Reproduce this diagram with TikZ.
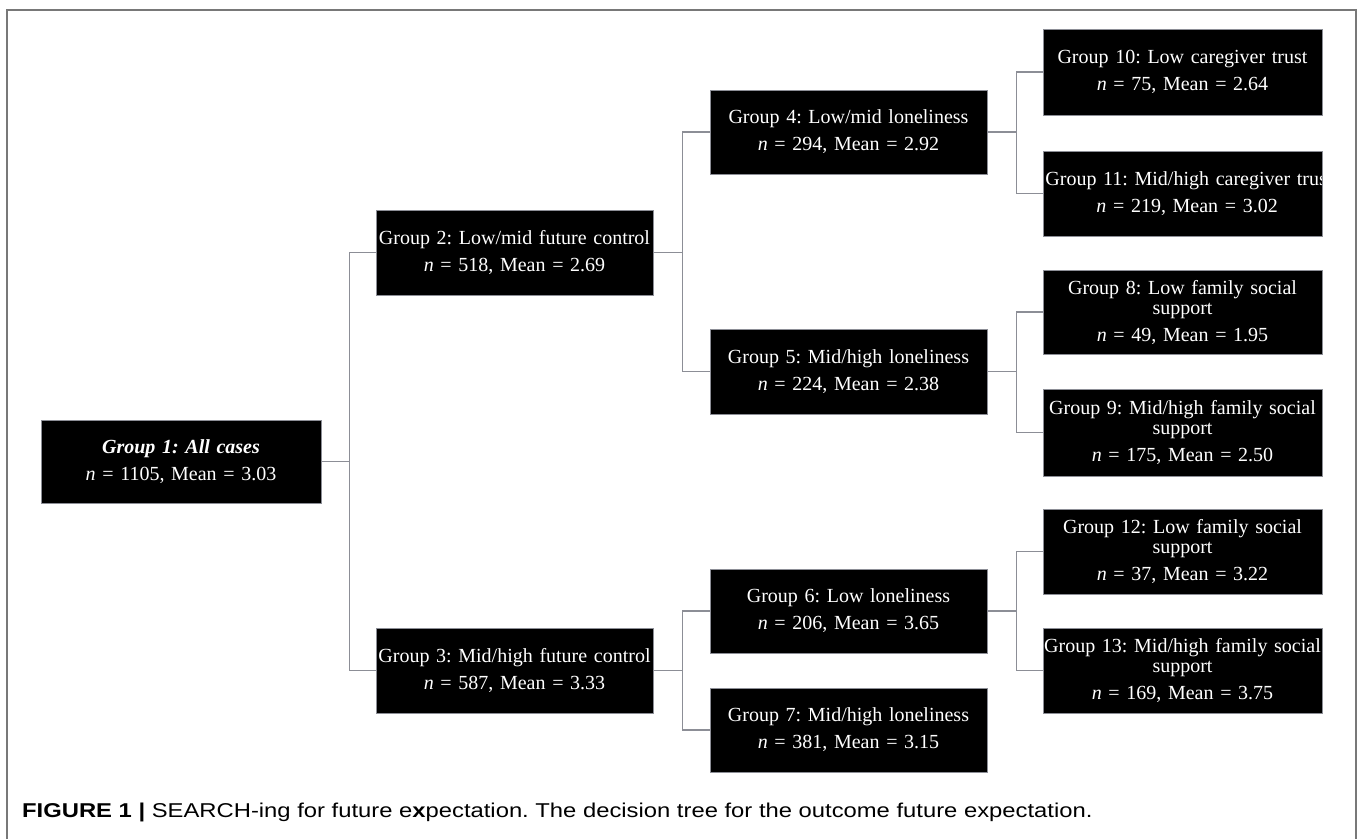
\documentclass[tikz,border=0pt]{standalone}
\usepackage{fontspec}
\setmainfont{Liberation Serif}
\newfontfamily\capfont[FakeStretch=1.19]{Liberation Sans}
\definecolor{linegray}{RGB}{140,142,150}
\definecolor{framegray}{RGB}{120,120,120}
\tikzset{
  grpbox/.style={fill=black, draw=linegray, line width=0.8pt, text=white, align=center,
    inner sep=0pt, text width=279pt, minimum height=85pt,
    font=\fontsize{20}{20}\selectfont},
  conn/.style={draw=linegray, line width=1.3pt},
}
\newcommand{\nm}[2]{\textit{n} = #1, Mean = #2}
\frenchspacing
\begin{document}
\begin{tikzpicture}[x=1pt, y=-1pt]
\useasboundingbox (0,0) rectangle (1358,839);
\draw[framegray, line width=1.6pt] (7,839) -- (7,10) -- (1356,10) -- (1356,839);

\node[grpbox, text width=280pt, minimum height=83pt] (g1) at (181,461.5) {\textbf{\textit{Group 1: All cases}}\\[7pt]\nm{1105}{3.03}};
\node[grpbox, text width=277pt] (g2) at (514.5,252.5) {Group 2: Low/mid future control\\[7pt]\nm{518}{2.69}};
\node[grpbox, text width=277pt] (g3) at (514.5,670.5) {Group 3: Mid/high future control\\[7pt]\nm{587}{3.33}};
\node[grpbox, text width=277pt, minimum height=84pt] (g4) at (848.5,132) {Group 4: Low/mid loneliness\\[7pt]\nm{294}{2.92}};
\node[grpbox, text width=277pt] (g5) at (848.5,371.5) {Group 5: Mid/high loneliness\\[7pt]\nm{224}{2.38}};
\node[grpbox, text width=277pt, minimum height=84pt] (g6) at (848.5,611) {Group 6: Low loneliness\\[7pt]\nm{206}{3.65}};
\node[grpbox, text width=277pt, minimum height=84pt] (g7) at (848.5,730) {Group 7: Mid/high loneliness\\[7pt]\nm{381}{3.15}};

\node[grpbox, minimum height=86pt] (g10) at (1182.5,72) {Group 10: Low caregiver trust\\[7pt]\nm{75}{2.64}};
\node[grpbox, minimum height=85pt,
  path picture={\node[text=white, font=\fontsize{20}{20}\selectfont, text width=400pt, align=left, anchor=west, inner sep=0pt]
    at ([xshift=2pt]path picture bounding box.west) {Group 11: Mid/high caregiver trust\\[7pt]\hspace*{51pt}\nm{219}{3.02}};}] (g11) at (1182.5,193.5) {};
\node[grpbox, minimum height=84pt] (g8) at (1182.5,312) {Group 8: Low family social\\support\\[7pt]\nm{49}{1.95}};
\node[grpbox, minimum height=87pt] (g9) at (1182.5,432.5) {Group 9: Mid/high family social\\support\\[7pt]\nm{175}{2.50}};
\node[grpbox, minimum height=85pt] (g12) at (1182.5,551.5) {Group 12: Low family social\\support\\[7pt]\nm{37}{3.22}};
\node[grpbox, minimum height=85pt] (g13) at (1182.5,670.5) {Group 13: Mid/high family social\\support\\[7pt]\nm{169}{3.75}};

\draw[conn] (g1.east) -- ++(28,0) coordinate (b1);
\draw[conn] (b1) |- (g2.west);
\draw[conn] (b1) |- (g3.west);
\draw[conn] (g2.east) -- ++(29,0) coordinate (b2);
\draw[conn] (b2) |- (g4.west);
\draw[conn] (b2) |- (g5.west);
\draw[conn] (g3.east) -- ++(29,0) coordinate (b3);
\draw[conn] (b3) |- (g6.west);
\draw[conn] (b3) |- (g7.west);
\draw[conn] (g4.east) -- ++(29,0) coordinate (b4);
\draw[conn] (b4) |- (g10.west);
\draw[conn] (b4) |- (g11.west);
\draw[conn] (g5.east) -- ++(29,0) coordinate (b5);
\draw[conn] (b5) |- (g8.west);
\draw[conn] (b5) |- (g9.west);
\draw[conn] (g6.east) -- ++(29,0) coordinate (b6);
\draw[conn] (b6) |- (g12.west);
\draw[conn] (b6) |- (g13.west);

\node[anchor=west, inner sep=0pt, font=\capfont\fontsize{20}{22}\selectfont] (cap) at (22,812)
  {\textbf{FIGURE 1 |} SEARCH-ing for future e\textbf{x}pectation. The decision tree for the outcome future expectation.};
\end{tikzpicture}
\end{document}
